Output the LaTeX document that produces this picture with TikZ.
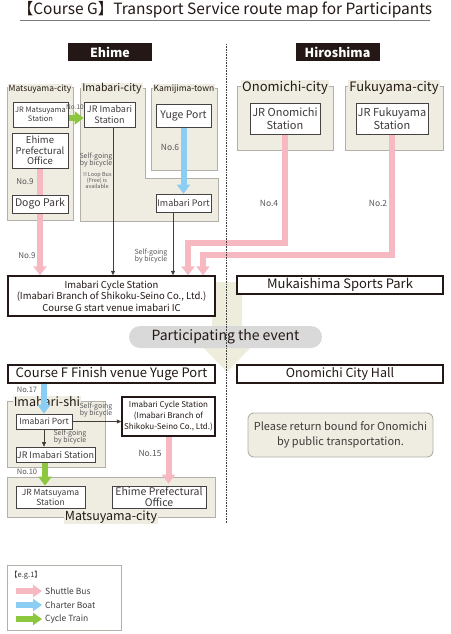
\documentclass[tikz,border=0pt]{standalone}
\usepackage{fontspec}
\setmainfont{Noto Sans CJK JP}
\usetikzlibrary{arrows.meta}
\pgfdeclarelayer{back}
\pgfdeclarelayer{mid}
\pgfsetlayers{back,mid,main}
\definecolor{beige}{RGB}{239,237,226}
\definecolor{arrbeige}{RGB}{238,236,218}
\definecolor{gborder}{RGB}{178,176,168}
\definecolor{pinkc}{RGB}{246,185,194}
\definecolor{bluec}{RGB}{140,205,243}
\definecolor{greenc}{RGB}{141,198,63}
\definecolor{darkc}{RGB}{35,24,21}
\definecolor{boxtext}{RGB}{62,58,57}
\definecolor{boxline}{RGB}{70,66,65}
\definecolor{labgray}{RGB}{89,87,87}
\definecolor{pillgray}{RGB}{217,217,217}
\newcommand{\myfs}[2]{\fontsize{#1}{#2}\selectfont}
\tikzset{
  box/.style={draw=boxline, line width=0.7pt, fill=white, align=center, inner sep=0pt, text=boxtext},
  hbox/.style={draw=darkc, line width=1.4pt, fill=white, align=center, inner sep=0pt, text=darkc},
  grp/.style={draw=gborder, fill=beige, line width=0.9pt},
  glabel/.style={fill=beige, inner sep=1pt, text=darkc},
  hdr/.style={fill=darkc, text=white, minimum width=84pt, minimum height=18pt, inner sep=0pt, font=\myfs{12.5}{13}\bfseries},
  lab/.style={text=labgray, align=center, inner sep=0pt},
  pinkarr/.style={draw=pinkc, line width=6pt, line join=miter, -{Triangle[width=13pt,length=9pt]}},
  bluearr/.style={draw=bluec, line width=6pt, -{Triangle[width=13pt,length=9pt]}},
  greenarr/.style={draw=greenc, line width=6pt, -{Triangle[width=13pt,length=9pt]}},
  thinarr/.style={draw=darkc!85, line width=0.6pt, -{Triangle[width=4pt,length=4.5pt]}},
}
\begin{document}
\begin{tikzpicture}[x=1pt,y=-1pt]
\useasboundingbox (0,0) rectangle (450,634);
% title
\node[font=\myfs{15.5}{15.5}, text=darkc, inner sep=0pt] (title) at (225,10) {【Course G】Transport Service route map for Participants};
\draw[gborder!70!black, line width=0.9pt] (20,20) -- (430,20);
% headers
\node[hdr] (ehime) at (110,52.5) {Ehime};
\node[hdr] (hiro) at (337.5,52.5) {Hiroshima};

\begin{pgfonlayer}{back}
  \fill[arrbeige] (212,282) -- (242,282) -- (242,343) -- (255,343) -- (227,372) -- (199,343) -- (212,343) -- cycle;
  \draw[grp] (7,87) rectangle (73,220);
  \draw[grp] (80,88) -- (145,88) -- (145,178) -- (218,178) -- (218,221) -- (80,221) -- cycle;
  \draw[grp] (151,88) rectangle (217,170);
  \draw[grp] (237,86) rectangle (333,150);
  \draw[grp] (345,86) rectangle (443,150);
  \draw[grp] (7,401) rectangle (105,467);
  \draw[grp] (7,477) rectangle (215,517);
  \node[glabel, font=\myfs{8.5}{8.5}] (lmat) at (40,89) {Matsuyama-city};
  \node[glabel, font=\myfs{10.5}{10.5}] (lima) at (112,89) {Imabari-city};
  \node[glabel, font=\myfs{8.5}{8.5}] (lkam) at (184,89) {Kamijima-town};
  \node[glabel, font=\myfs{13}{13}] (lono) at (285,88) {Onomichi-city};
  \node[glabel, font=\myfs{13}{13}] (lfuk) at (394,88) {Fukuyama-city};
  \node[glabel, font=\myfs{12.5}{12.5}] (lshi) at (47,402) {Imabari-shi};
  \node[glabel, font=\myfs{12.5}{12.5}] (lmat2) at (111,517) {Matsuyama-city};
\end{pgfonlayer}

% boxes
\node[box, minimum width=55pt, minimum height=25pt, font=\myfs{7.5}{9.5}] (jrmat) at (40.5,114.5) {JR Matsuyama\\Station};
\node[box, minimum width=56pt, minimum height=35pt, font=\myfs{9.5}{10.5}] (epo) at (40,150.5) {Ehime\\Prefectural\\Office};
\node[box, minimum width=56pt, minimum height=18pt, font=\myfs{10.5}{10.5}] (dogo) at (40,204) {Dogo Park};
\node[box, minimum width=51pt, minimum height=25pt, font=\myfs{9}{10.5}] (jrima) at (109.5,114.5) {JR Imabari\\Station};
\node[box, minimum width=55pt, minimum height=23pt, font=\myfs{10.5}{10.5}] (yuge) at (183.5,115.5) {Yuge Port};
\node[box, minimum width=55pt, minimum height=18pt, font=\myfs{9}{10}] (imaport) at (183.5,203) {Imabari Port};
\node[hbox, minimum width=207pt, minimum height=40pt, font=\myfs{9.5}{11.5}] (cyc) at (111.5,296) {Imabari Cycle Station\\(Imabari Branch of Shikoku-Seino Co., Ltd.)\\Course G start venue imabari IC};
\node[box, minimum width=70pt, minimum height=31pt, font=\myfs{11}{12.5}] (jrono) at (285,118.5) {JR Onomichi\\Station};
\node[box, minimum width=72pt, minimum height=31pt, font=\myfs{11}{12.5}] (jrfuk) at (392,118.5) {JR Fukuyama\\Station};
\node[hbox, minimum width=206pt, minimum height=18pt, font=\myfs{13}{13}] (muk) at (340,285) {Mukaishima Sports Park};
\node[fill=pillgray, rounded corners=11pt, minimum width=193pt, minimum height=22pt, inner sep=0pt, font=\myfs{14}{14}, text=darkc] (part) at (225.5,337) {Participating the event};
\node[hbox, minimum width=207pt, minimum height=18pt, font=\myfs{13}{13}] (coursef) at (111.5,374) {Course F Finish venue Yuge Port};
\node[hbox, minimum width=206pt, minimum height=18pt, font=\myfs{12.5}{12.5}] (ochall) at (340,374) {Onomichi City Hall};
\node[box, minimum width=56pt, minimum height=15pt, font=\myfs{8.5}{9}] (imaport2) at (44,421.5) {Imabari Port};
\node[box, minimum width=79pt, minimum height=15pt, font=\myfs{9}{9.5}] (jrima2) at (55.5,454.5) {JR Imabari Station};
\node[hbox, minimum width=93pt, minimum height=39pt, font=\myfs{8}{11}] (cyc2) at (168.5,416.5) {Imabari Cycle Station\\(Imabari Branch of\\Shikoku-Seino Co., Ltd.)};
\node[box, minimum width=69pt, minimum height=22pt, font=\myfs{8.5}{10}] (jrmat2) at (50.5,497) {JR Matsuyama\\Station};
\node[box, minimum width=94pt, minimum height=22pt, font=\myfs{10.5}{10.5}] (epo2) at (159,497) {Ehime Prefectural\\Office};
\node[draw=gborder, fill=beige, rounded corners=6pt, line width=0.9pt, minimum width=185pt, minimum height=44pt, align=center, font=\myfs{11}{15}, text=boxtext] (ret) at (340.5,435) {Please return bound for Onomichi\\by public transportation.};

\coordinate (c1) at (188,243);
\coordinate (c2) at (203,255);
\coordinate (g2) at (45,0);
\begin{pgfonlayer}{mid}
  \draw[pinkarr] (epo.south) -- (epo.south |- cyc.north);
  \draw[pinkarr] (jrono.south) |- (c1) -- (c1 |- cyc.north);
  \draw[pinkarr] (jrfuk.south) |- (c2) -- (c2 |- cyc.north);
  \draw[pinkarr, shorten >=2pt] (cyc2.south) -- (cyc2.south |- epo2.north);
  \draw[bluearr] (yuge.south) -- (imaport.north);
  \draw[bluearr] (coursef.south -| imaport2.north) -- (imaport2.north);
  \draw[greenarr] ([yshift=-3.5pt]jrmat.east) -- ([yshift=-3.5pt]jrima.west);
  \draw[greenarr] (jrima2.south -| g2) -- (jrmat2.north -| g2);
  \draw[thinarr] ([xshift=3.5pt]jrima.south) -- ([xshift=3.5pt]jrima.south |- cyc.north);
  \draw[thinarr] ([xshift=-10.5pt]imaport.south) -- ([xshift=-10.5pt]imaport.south |- cyc.north);
  \draw[thinarr] (imaport2.east) -- (imaport2.east -| cyc2.west);
  \draw[thinarr] (imaport2.south) -- (imaport2.south |- jrima2.north);
\end{pgfonlayer}

% labels
\node[lab, font=\myfs{6.5}{6.5}] (n10a) at (75,107) {No.10};
\node[lab, font=\myfs{8}{8}] (n9a) at (25,182) {No.9};
\node[lab, font=\myfs{8}{8}] (n9b) at (27,256) {No.9};
\node[lab, font=\myfs{8.5}{8.5}] (n6) at (170,147) {No.6};
\node[lab, font=\myfs{7}{7.5}] (sg1) at (96,160) {Self-going\\by bicycle};
\node[lab, font=\myfs{5.5}{6}] (loop) at (97,180) {※Loop Bus\\(Free) is\\available};
\node[lab, font=\myfs{7}{7.5}] (sg2) at (151,256) {Self-going\\by bicycle};
\node[lab, font=\myfs{8.5}{8.5}] (n4) at (269,203) {No.4};
\node[lab, font=\myfs{8.5}{8.5}] (n2) at (378,203) {No.2};
\node[lab, font=\myfs{7.5}{7.5}] (n17) at (27,390) {No.17};
\node[lab, font=\myfs{7}{7.5}] (sg3) at (96,410) {Self-going\\by bicycle};
\node[lab, font=\myfs{7}{7.5}] (sg4) at (70,437) {Self-going\\by bicycle};
\node[lab, font=\myfs{7.5}{7.5}] (n10b) at (27,472) {No.10};
\node[lab, font=\myfs{8.5}{8.5}] (n15) at (150,453) {No.15};

% legend
\draw[draw=gborder, line width=0.8pt, fill=white] (7,565) rectangle (121,630);
\node[lab, anchor=west, font=\myfs{7.5}{7.5}, text=boxtext] (eg) at (10,575) {【e.g.1】};
\coordinate (la1) at (16,591); \coordinate (la2) at (42,591);
\coordinate (lb1) at (16,605); \coordinate (lb2) at (42,605);
\coordinate (lc1) at (16,619); \coordinate (lc2) at (42,619);
\draw[pinkarr, -{Triangle[width=12pt,length=9pt]}] (la1) -- (la2);
\draw[bluearr, -{Triangle[width=12pt,length=9pt]}] (lb1) -- (lb2);
\draw[greenarr, -{Triangle[width=12pt,length=9pt]}] (lc1) -- (lc2);
\node[lab, anchor=west, font=\myfs{8.5}{8.5}, text=boxtext] (lg1) at (45,591) {Shuttle Bus};
\node[lab, anchor=west, font=\myfs{8.5}{8.5}, text=boxtext] (lg2) at (45,605) {Charter Boat};
\node[lab, anchor=west, font=\myfs{8.5}{8.5}, text=boxtext] (lg3) at (45,619) {Cycle Train};

% divider
\coordinate (dv1) at (226,44);
\coordinate (dv2) at (226,523);
\draw[black!75, line width=0.8pt, dash pattern=on 0.8pt off 0.8pt] (dv1) -- (dv2);
\end{tikzpicture}
\end{document}
